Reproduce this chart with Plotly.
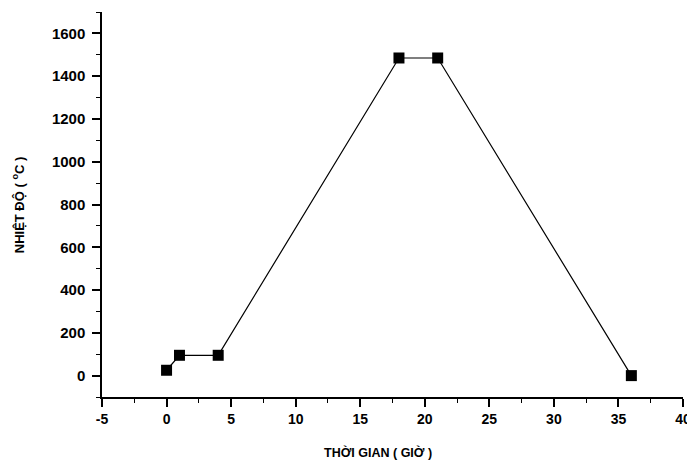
import plotly.graph_objects as go

time_h = [0, 1, 4, 18, 21, 36]
temp_c = [25, 95, 95, 1485, 1485, 0]

x_ticks = [-5, 0, 5, 10, 15, 20, 25, 30, 35, 40]
x_labels = ["-5", "0", "5", "10", "15", "20", "25", "30", "35", "40"]
y_ticks = [0, 200, 400, 600, 800, 1000, 1200, 1400, 1600]

fig = go.Figure()
fig.add_trace(go.Scatter(
    x=time_h, y=temp_c, mode="lines+markers",
    line=dict(color="black", width=1.2),
    marker=dict(symbol="square", size=11, color="black"),
    showlegend=False,
))

font = dict(family="Liberation Sans, Arial, sans-serif", size=13, color="black")

fig.update_layout(
    width=687, height=454,
    margin=dict(l=94, r=12, t=4, b=65, autoexpand=False),
    paper_bgcolor="white", plot_bgcolor="white",
    font=font,
    xaxis=dict(
        range=[-5, 40], tickvals=x_ticks, ticktext=x_labels,
        showgrid=False, zeroline=False, automargin=False,
        showline=True, linecolor="black", linewidth=1.5,
        ticks="outside", ticklen=8, tickwidth=1.5, tickcolor="black",
        minor=dict(ticks="outside", ticklen=4, dtick=2.5, tickcolor="black", tickwidth=1),
        tickfont=dict(size=14, weight="bold"),
    ),
    yaxis=dict(
        range=[-100, 1700], tickvals=y_ticks,
        showgrid=False, zeroline=False, automargin=False,
        showline=True, linecolor="black", linewidth=1.5,
        ticks="outside", ticklen=8, tickwidth=1.5, tickcolor="black",
        minor=dict(ticks="outside", ticklen=4, dtick=100, tickcolor="black", tickwidth=1),
        tickfont=dict(size=15, weight="bold"), ticklabelstandoff=4,
    ),
    annotations=[
        dict(text="<b>THỜI GIAN ( GIỜ )</b>", xref="paper", yref="paper",
             x=0.475, y=-0.143, xanchor="center", yanchor="middle",
             showarrow=False, font=dict(size=12.5)),
        dict(text="<b>NHIỆT ĐỘ ( <sup>o</sup>C )</b>", xref="paper", yref="paper",
             x=-0.145, y=0.5, xanchor="center", yanchor="middle", textangle=-90,
             showarrow=False, font=dict(size=13)),
    ],
)

fig.write_html("out.html")
